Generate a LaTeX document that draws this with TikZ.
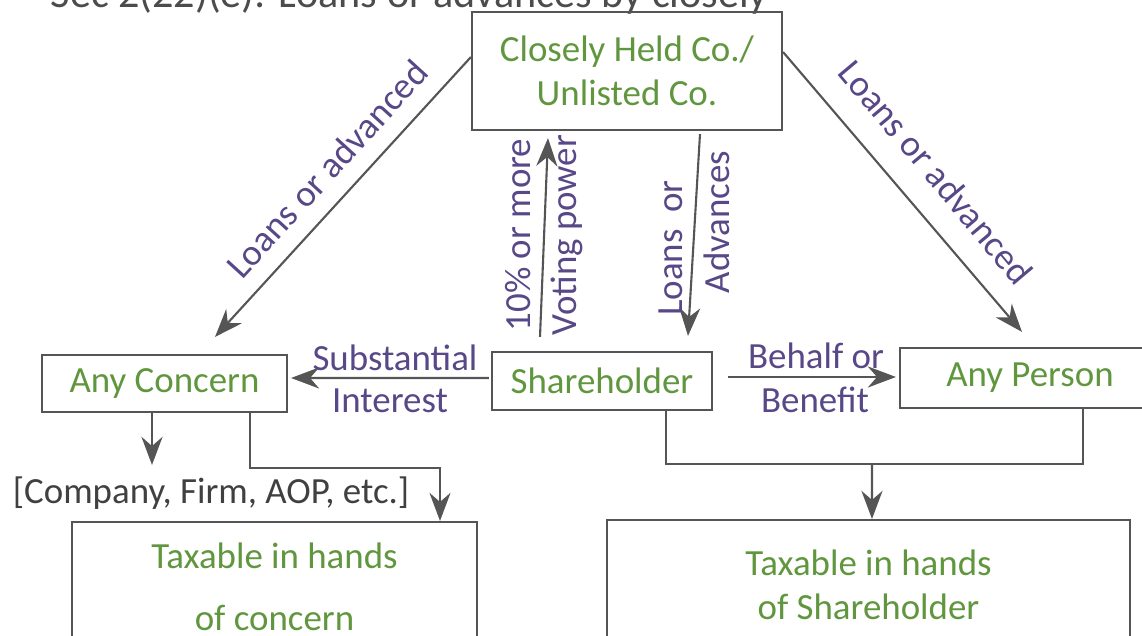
\documentclass[tikz,border=0pt]{standalone}
\usepackage{fontspec}
\setmainfont{Carlito}
\usetikzlibrary{positioning, arrows.meta}

\definecolor{boxgreen}{RGB}{96,150,62}
\definecolor{labelpurple}{RGB}{88,72,135}
\definecolor{linegray}{RGB}{85,85,85}

\begin{document}
\begin{tikzpicture}[
        box/.style={draw=linegray, line width=0.6pt, font=\fontsize{10.5}{12.6}\selectfont, text=boxgreen, align=center, inner sep=0pt},
        lbl/.style={font=\fontsize{10.5}{12.6}\selectfont, text=labelpurple, inner sep=0pt},
        arr/.style={draw=linegray, line width=0.6pt, -{Stealth[length=8pt,width=6pt]}},
        plain/.style={draw=linegray, line width=0.6pt}
    ]
        \useasboundingbox (0,0) rectangle (11.42,-6.36);
        \clip (0,0) rectangle (11.42,-6.36);

        % Heading line (runs off the top edge)
        \node[anchor=base west, font=\fontsize{12}{14}\selectfont, text=black!70, inner sep=0pt] (title) at (0.50,-0.08) {Sec 2(22)(e): Loans or advances by closely};

        % Draw the boxes
        \node[box, minimum width=3.10cm, minimum height=1.18cm] (closely) at (6.27,-0.71) {Closely Held Co./\\Unlisted Co.};
        \node[box, minimum width=2.45cm, minimum height=0.57cm] (concern) at (1.645,-3.835) {Any Concern};
        \node[box, minimum width=2.20cm, minimum height=0.58cm] (holder) at (6.02,-3.81) {Shareholder};
        \node[box, minimum width=2.60cm, minimum height=0.60cm] (person) at (10.30,-3.78) {Any Person};
        \node[box, minimum width=4.05cm, minimum height=1.30cm] (taxconcern) at (2.745,-5.87) {Taxable in hands\\[5pt]of concern};
        \node[box, minimum width=5.23cm, minimum height=1.30cm] (taxholder) at (8.685,-5.85) {Taxable in hands\\of Shareholder};

        % Kinds of concern
        \node[font=\fontsize{10.5}{12.6}\selectfont, text=black!75, inner sep=0pt] (kinds) at (2.11,-4.93) {[Company, Firm, AOP, etc.]};

        % Free ends and joints
        \coordinate (kindtip) at (1.52,-4.65);
        \coordinate (join) at (8.72,-4.64);

        % Loans from the company
        \draw[arr] ([yshift=0.14cm]closely.west) -- ([shift={(0.505,0.17)}]concern.north);
        \draw[arr] ([yshift=0.19cm]closely.east) -- ([shift={(-0.08,0.15)}]person.north);
        \draw[arr] ([shift={(-0.62,0.14)}]holder.north) -- ([shift={(-0.79,-0.07)}]closely.south);
        \draw[arr] ([shift={(0.73,-0.03)}]closely.south) -- ([shift={(0.86,0.15)}]holder.north);

        % Shareholder to concern and person
        \draw[arr] ([shift={(-0.02,0.03)}]holder.west) -- ([shift={(0.03,0.055)}]concern.east);
        \draw[arr] ([shift={(0.15,0.04)}]holder.east) -- ([shift={(-0.03,0.01)}]person.west);

        % Down to the tax boxes
        \draw[arr] ([xshift=-0.125cm]concern.south) -- (kindtip);
        \draw[arr] ([xshift=0.855cm]concern.south) -- ++(0,-0.55) -| ([xshift=1.655cm]taxconcern.north);
        \draw[plain] ([xshift=0.64cm]holder.south) |- (join) -| ([xshift=0.53cm]person.south);
        \draw[arr] (join) -- ([xshift=0.035cm]taxholder.north);

        % Arrow labels
        \node[lbl, rotate=47.6] (loanl) at (3.27,-1.69) {Loans or advanced};
        \node[lbl, rotate=-50] (loanr) at (9.36,-1.72) {Loans or advanced};
        \node[lbl, rotate=90] (tenpc) at (5.18,-2.35) {10\% or more};
        \node[lbl, rotate=90] (voting) at (5.67,-2.35) {Voting power};
        \node[lbl, rotate=90] (loansor) at (6.71,-2.48) {Loans\ \ or};
        \node[lbl, rotate=90] (advances) at (7.17,-2.22) {Advances};
        \node[lbl] (subst) at (3.95,-3.58) {Substantial};
        \node[lbl] (interest) at (3.90,-4.01) {Interest};
        \node[lbl] (behalf) at (8.16,-3.56) {Behalf or};
        \node[lbl] (benefit) at (8.15,-4.00) {Benefit};
\end{tikzpicture}
\end{document}
